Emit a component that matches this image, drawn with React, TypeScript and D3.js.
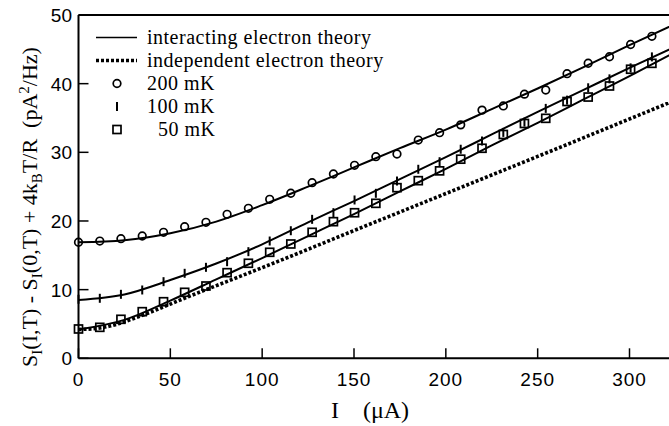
import React from "react";
import * as d3 from "d3";

// Bias current (μA) at which the noise was measured
const currents = [
  0, 11.6, 23.1, 34.7, 46.3, 57.8, 69.4, 80.9, 92.5, 104.1, 115.6, 127.2, 138.8, 150.3,
  161.9, 173.4, 185.0, 196.6, 208.1, 219.7, 231.3, 242.8, 254.4, 266.0, 277.5, 289.1, 300.6, 312.2,
];

// Measured excess noise (pA²/Hz)
const noise200mK = [
  16.9, 17.08, 17.42, 17.81, 18.35, 19.17, 19.81, 20.97, 21.85, 23.16, 24.04, 25.58, 26.84, 28.11,
  29.36, 29.75, 31.79, 32.86, 34.0, 36.15, 36.75, 38.47, 39.08, 41.45, 42.97, 43.92, 45.7, 46.9,
];
const noise100mK = [
  8.6, 8.74, 9.32, 9.95, 11.16, 12.38, 13.25, 14.07, 15.53, 17.08, 18.58, 20.24, 21.21, 23.06,
  24.03, 25.82, 27.53, 28.63, 30.45, 31.65, 32.9, 34.4, 36.4, 37.6, 39.4, 40.7, 42.3, 43.9,
];
const noise50mK = [
  4.27, 4.51, 5.68, 6.79, 8.24, 9.61, 10.53, 12.47, 13.84, 15.44, 16.65, 18.35, 19.9, 21.2,
  22.57, 24.85, 25.87, 27.3, 29.0, 30.59, 32.6, 34.2, 34.95, 37.4, 38.05, 39.66, 42.1, 42.96,
];

// Theory curves
const theoryCurrents = [0, 25, 50, 75, 100, 125, 150, 175, 200, 225, 250, 275, 300, 325];
const interacting200mK = [16.9, 17.2, 18.2, 19.9, 22.3, 25.0, 27.8, 30.6, 33.3, 36.3, 39.3, 42.4, 45.6, 48.7];
const interacting100mK = [8.5, 9.3, 11.4, 13.8, 16.6, 19.8, 22.9, 26.1, 29.3, 32.6, 35.9, 39.1, 42.3, 45.4];
const interacting50mK = [4.2, 5.6, 8.4, 11.5, 14.6, 17.8, 21.0, 24.3, 27.6, 31.0, 34.3, 37.7, 41.1, 44.6];

const independentCurrents = [0, 10, 20, 30, 40, 50, 60, 80, 100, 150, 200, 250, 325];
const independent50mK = [4.2, 4.35, 4.9, 5.8, 6.8, 7.9, 9.0, 11.1, 13.2, 18.6, 24.0, 29.4, 37.6];

const xTicks = [0, 50, 100, 150, 200, 250, 300];
const yTicks = [0, 10, 20, 30, 40, 50];

const W = 669;
const H = 426;
const left = 78.5;
const top = 15;
const bottom = 358.3;

const x = d3.scaleLinear().domain([0, 300]).range([left, 629.5]);
const y = d3.scaleLinear().domain([0, 50]).range([bottom, top]);

const line = d3
  .line<[number, number]>()
  .x((d) => x(d[0]))
  .y((d) => y(d[1]))
  .curve(d3.curveMonotoneX);

const zip = (a: number[], b: number[]) => a.map((v, i) => [v, b[i]] as [number, number]);

const serif = "'Liberation Serif', 'Times New Roman', serif";
const sans = "'Liberation Sans', Arial, sans-serif";

function Circle({ cx, cy }: { cx: number; cy: number }) {
  return <circle cx={cx} cy={cy} r={3.8} fill="none" stroke="#000" strokeWidth={1.7} />;
}
function Bar({ cx, cy }: { cx: number; cy: number }) {
  return <line x1={cx} x2={cx} y1={cy - 4.5} y2={cy + 4.5} stroke="#000" strokeWidth={2} />;
}
function Square({ cx, cy }: { cx: number; cy: number }) {
  return <rect x={cx - 4} y={cy - 4} width={8} height={8} fill="none" stroke="#000" strokeWidth={1.7} />;
}

// Legend rows: vertical centres
const legendRows = [37.5, 60.5, 83.5, 106.5, 129.5];

export default function App() {
  const xEnd = W;
  return (
    <svg
      width={W}
      height={H}
      viewBox={`0 0 ${W} ${H}`}
      style={{ position: "absolute", left: 0, top: 0, background: "#fff" }}
    >
      <defs>
        <clipPath id="plot">
          <rect x={left} y={top} width={xEnd - left} height={bottom - top} />
        </clipPath>
      </defs>

      {/* frame */}
      <g stroke="#000" strokeWidth={2} fill="none">
        <line x1={left} x2={xEnd} y1={top} y2={top} />
        <line x1={left} x2={xEnd} y1={bottom} y2={bottom} />
        <line x1={left} x2={left} y1={top} y2={bottom} />
      </g>

      {/* ticks */}
      <g stroke="#000" strokeWidth={1.5}>
        {xTicks.map((t) => (
          <line key={`xt${t}`} x1={x(t)} x2={x(t)} y1={bottom} y2={bottom - 10} />
        ))}
        {yTicks.map((t) => (
          <line key={`yt${t}`} x1={left} x2={left + 10} y1={y(t)} y2={y(t)} />
        ))}
      </g>

      <g fontFamily={sans} fontSize={19} fill="#000">
        {xTicks.map((t) => (
          <text key={`xl${t}`} x={x(t)} y={386} textAnchor="middle" letterSpacing={1}>
            {t}
          </text>
        ))}
        {yTicks.map((t) => (
          <text key={`yl${t}`} x={72} y={y(t) + 7} textAnchor="end">
            {t}
          </text>
        ))}
      </g>

      {/* theory */}
      <g clipPath="url(#plot)" fill="none" stroke="#000">
        <path d={line(zip(independentCurrents, independent50mK)) || ""} strokeWidth={3.6} strokeDasharray="3 2" />
        <path d={line(zip(theoryCurrents, interacting200mK)) || ""} strokeWidth={2} />
        <path d={line(zip(theoryCurrents, interacting100mK)) || ""} strokeWidth={2} />
        <path d={line(zip(theoryCurrents, interacting50mK)) || ""} strokeWidth={2} />
      </g>

      {/* data */}
      <g>
        {currents.map((c, i) => (
          <Circle key={`c${i}`} cx={x(c)} cy={y(noise200mK[i])} />
        ))}
        {currents.map((c, i) => (
          <Bar key={`b${i}`} cx={x(c)} cy={y(noise100mK[i])} />
        ))}
        {currents.map((c, i) => (
          <Square key={`s${i}`} cx={x(c)} cy={y(noise50mK[i])} />
        ))}
      </g>

      {/* legend */}
      <g fontFamily={serif} fontSize={20} fill="#000" letterSpacing={0.5}>
        <line x1={96} x2={137} y1={legendRows[0]} y2={legendRows[0]} stroke="#000" strokeWidth={1.6} />
        <text x={147} y={legendRows[0] + 6.5}>interacting electron theory</text>
        <line
          x1={96}
          x2={137}
          y1={legendRows[1]}
          y2={legendRows[1]}
          stroke="#000"
          strokeWidth={3.6}
          strokeDasharray="3 2"
        />
        <text x={147} y={legendRows[1] + 6.5}>independent electron theory</text>
        <Circle cx={117} cy={legendRows[2]} />
        <text x={147} y={legendRows[2] + 6.5}>200 mK</text>
        <Bar cx={117} cy={legendRows[3]} />
        <text x={147} y={legendRows[3] + 6.5}>100 mK</text>
        <Square cx={117} cy={legendRows[4]} />
        <text x={158} y={legendRows[4] + 6.5}>50 mK</text>
      </g>

      {/* axis titles */}
      <text x={370} y={418} fontFamily={serif} fontSize={24} textAnchor="middle" xmlSpace="preserve">
        {"I    (μA)"}
      </text>
      <text
        transform="translate(37,207) rotate(-90)"
        fontFamily={serif}
        fontSize={22}
        textAnchor="middle"
        xmlSpace="preserve"
      >
        <tspan>S</tspan>
        <tspan fontSize={15} dy={5}>I</tspan>
        <tspan dy={-5}>(I,T) - S</tspan>
        <tspan fontSize={15} dy={5}>I</tspan>
        <tspan dy={-5}>(0,T) + 4k</tspan>
        <tspan fontSize={15} dy={5}>B</tspan>
        <tspan dy={-5}>{"T/R  (pA"}</tspan>
        <tspan fontSize={15} dy={-8}>2</tspan>
        <tspan dy={8}>/Hz)</tspan>
      </text>
    </svg>
  );
}
